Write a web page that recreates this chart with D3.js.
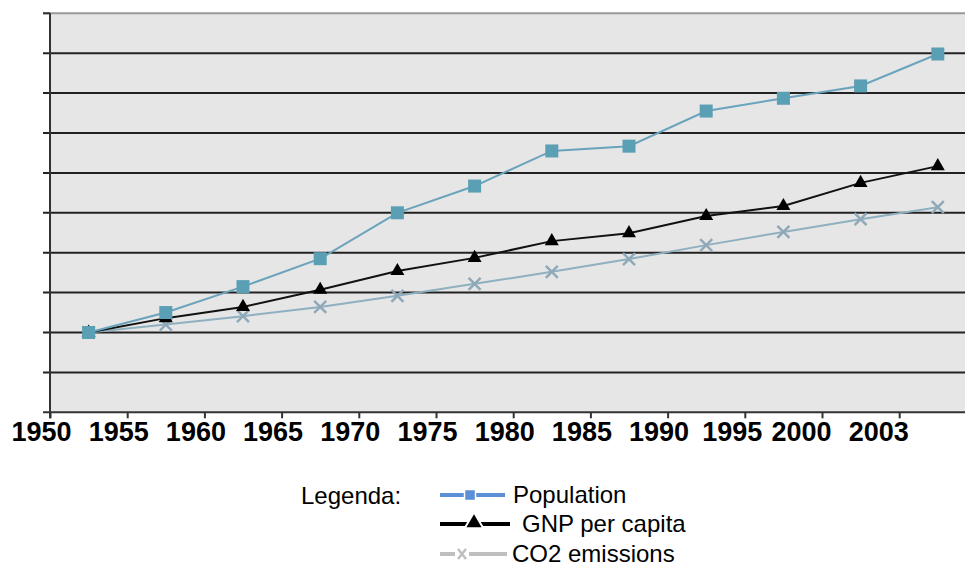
<!DOCTYPE html>
<html>
<head>
<meta charset="utf-8">
<script src="https://cdn.jsdelivr.net/npm/d3@7"></script>
<style>
  body { margin: 0; background: #fff; }
  svg { display: block; font-family: "Liberation Sans", Arial, sans-serif; }
</style>
</head>
<body>
<div id="chart"></div>
<script>
// categories (one point per period) and tick labels on the boundaries
var years = ["1950", "1955", "1960", "1965", "1970", "1975", "1980", "1985", "1990", "1995", "2000", "2003"];
var population = [2.0, 2.5, 3.15, 3.85, 5.0, 5.67, 6.55, 6.67, 7.55, 7.87, 8.18, 8.98];
var gnp = [2.0, 2.36, 2.64, 3.07, 3.54, 3.87, 4.29, 4.49, 4.92, 5.17, 5.75, 6.17];
var co2 = [2.0, 2.2, 2.41, 2.64, 2.92, 3.22, 3.52, 3.84, 4.19, 4.52, 4.84, 5.14];
var yTicks = [0, 1, 2, 3, 4, 5, 6, 7, 8, 9, 10];

var W = 965, H = 566;
var plotLeft = 50, plotTop = 13.3, plotBottom = 412.3, plotRight = 965;

var svg = d3.select("#chart").append("svg")
    .attr("width", W)
    .attr("height", H);

var x = d3.scaleLinear().domain([0, 11.8]).range([plotLeft, plotLeft + 11.8 * 77.2]);
var y = d3.scaleLinear().domain([0, 10]).range([plotBottom, plotTop]);

// plot background
svg.append("rect")
    .attr("x", plotLeft).attr("y", plotTop)
    .attr("width", plotRight - plotLeft).attr("height", plotBottom - plotTop)
    .style("fill", "#e6e6e6");

// gridlines
svg.selectAll(".grid")
    .data(yTicks.slice(1))
    .enter().append("line")
    .attr("x1", plotLeft - 7).attr("x2", plotRight)
    .attr("y1", function(d) { return y(d); })
    .attr("y2", function(d) { return y(d); })
    .style("stroke", function(d) { return d == 10 ? "#999" : "#222"; })
    .style("stroke-width", 2);

// x axis, labels sit a little left of their ticks (more so at the crowded end)
var xAxis = svg.append("g")
    .attr("transform", "translate(0," + plotBottom + ")")
    .call(d3.axisBottom(x)
        .tickValues(d3.range(years.length))
        .tickSize(6)
        .tickFormat(function(i) { return years[i]; }));
xAxis.select(".domain").attr("d", "M" + (plotLeft - 7) + ",0H" + plotRight).style("stroke", "#333").style("stroke-width", 2);
xAxis.selectAll(".tick line").style("stroke", "#333").style("stroke-width", 2);
xAxis.selectAll(".tick text")
    .attr("dx", function(i) { return i < 9 ? -9 : (i == 9 ? -13 : -21); })
    .attr("y", 10)
    .style("font-size", "27px")
    .style("font-weight", "bold")
    .style("fill", "#000")
    .style("font-family", "'Liberation Sans', Arial, sans-serif");

// y axis line
svg.append("line")
    .attr("x1", plotLeft).attr("x2", plotLeft)
    .attr("y1", plotTop).attr("y2", plotBottom + 6)
    .style("stroke", "#333").style("stroke-width", 2);
svg.append("line")
    .attr("x1", plotLeft - 7).attr("x2", plotLeft)
    .attr("y1", plotTop).attr("y2", plotTop)
    .style("stroke", "#333").style("stroke-width", 2);

var line = d3.line()
    .x(function(d, i) { return x(i + 0.5); })
    .y(function(d) { return y(d); });

// CO2
svg.append("path").datum(co2)
    .attr("d", line)
    .style("fill", "none").style("stroke", "#8fb0c0").style("stroke-width", 2);
svg.selectAll(".co2").data(co2).enter().append("path")
    .attr("transform", function(d, i) { return "translate(" + x(i + 0.5) + "," + y(d) + ")"; })
    .attr("d", "M-6,-6L6,6M-6,6L6,-6")
    .style("stroke", "#8fa9b9").style("stroke-width", 2.5);

// GNP
svg.append("path").datum(gnp)
    .attr("d", line)
    .style("fill", "none").style("stroke", "#111").style("stroke-width", 2);
svg.selectAll(".gnp").data(gnp).enter().append("path")
    .attr("transform", function(d, i) { return "translate(" + x(i + 0.5) + "," + y(d) + ")"; })
    .attr("d", d3.symbol().type(d3.symbolTriangle).size(85))
    .style("fill", "#000");

// Population
svg.append("path").datum(population)
    .attr("d", line)
    .style("fill", "none").style("stroke", "#6aa3bc").style("stroke-width", 2);
svg.selectAll(".pop").data(population).enter().append("rect")
    .attr("x", function(d, i) { return x(i + 0.5) - 6.5; })
    .attr("y", function(d) { return y(d) - 6.5; })
    .attr("width", 13).attr("height", 13)
    .style("fill", "#5b9fb5");

// legend
var lg = svg.append("g").style("font-size", "24px").style("fill", "#000");
lg.append("text").attr("x", 301).attr("y", 504).text("Legenda:");

var items = [
    { name: "Population", color: "#5b8fd6", y: 495, x2: 505, mx: 470, tx: 513 },
    { name: "GNP per capita", color: "#000", y: 524, x2: 510, mx: 474, tx: 522 },
    { name: "CO2 emissions", color: "#bfbfbf", y: 554, x2: 507, mx: 462, tx: 512 }
];
items.forEach(function(it, k) {
    lg.append("line")
        .attr("x1", 440).attr("x2", it.x2)
        .attr("y1", it.y).attr("y2", it.y)
        .style("stroke", it.color).style("stroke-width", 4);
    if (k == 0) {
        lg.append("rect").attr("x", it.mx - 5.5).attr("y", it.y - 5.5)
            .attr("width", 11).attr("height", 11).style("fill", it.color)
            .style("stroke", "#fff").style("stroke-width", 1.5);
    } else if (k == 1) {
        lg.append("path").attr("transform", "translate(" + it.mx + "," + (it.y - 1) + ")")
            .attr("d", d3.symbol().type(d3.symbolTriangle).size(150))
            .style("fill", "#000").style("stroke", "#fff").style("stroke-width", 2);
    } else {
        lg.append("rect").attr("x", it.mx - 7).attr("y", it.y - 7)
            .attr("width", 14).attr("height", 14).style("fill", "#fff");
        lg.append("path").attr("transform", "translate(" + it.mx + "," + it.y + ")")
            .attr("d", "M-4,-5L4,5M-4,5L4,-5")
            .style("stroke", it.color).style("stroke-width", 2.5);
    }
    lg.append("text").attr("x", it.tx).attr("y", it.y + 8).text(it.name);
});
</script>
</body>
</html>
